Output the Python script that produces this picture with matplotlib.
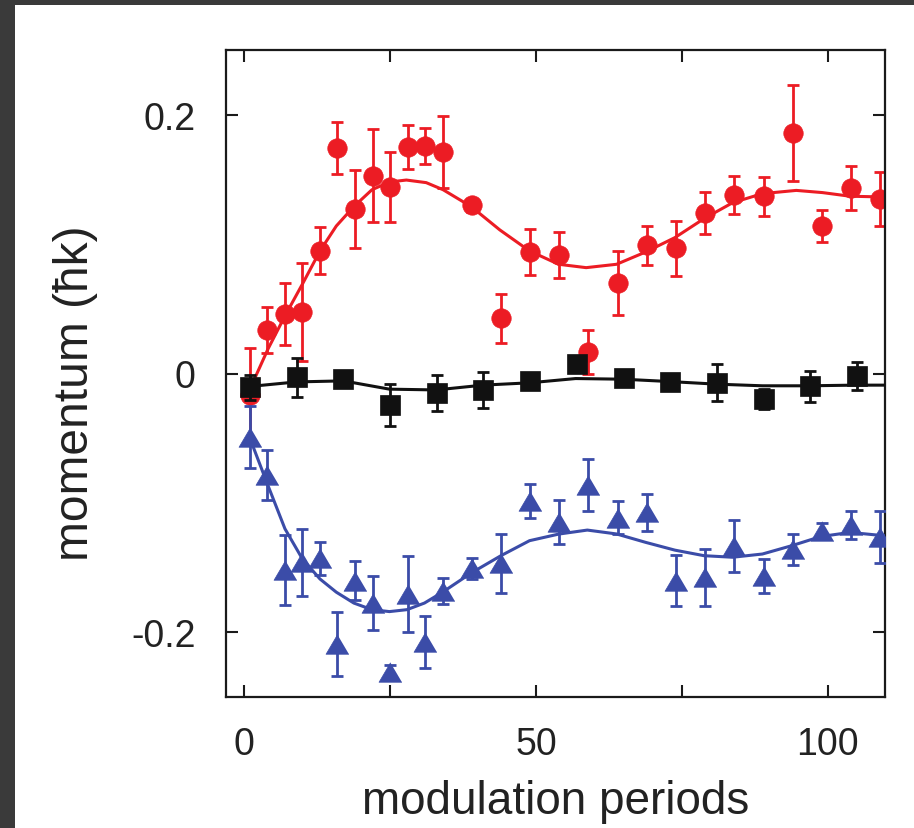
import numpy as np
import matplotlib
matplotlib.use("Agg")
import matplotlib.pyplot as plt
from matplotlib.patches import Rectangle

plt.rcParams['font.family'] = ['Liberation Sans', 'DejaVu Sans']

# measured points (modulation periods, momentum in hbar k)
red_x = [1, 4, 7, 10, 13, 16, 19, 22, 25, 28, 31, 34, 39, 44, 49, 54, 59, 64, 69, 74, 79, 84, 89, 94, 99, 104, 109]
red_y = [-0.017, 0.0335, 0.046, 0.0476, 0.095, 0.174, 0.127, 0.153, 0.144, 0.175, 0.176, 0.171, 0.130, 0.0427,
         0.094, 0.0916, 0.0167, 0.070, 0.099, 0.0967, 0.124, 0.138, 0.137, 0.186, 0.114, 0.1436, 0.135]
red_err = [0.037, 0.018, 0.024, 0.038, 0.018, 0.020, 0.030, 0.036, 0.027, 0.017, 0.014, 0.028, 0.005, 0.019,
           0.018, 0.018, 0.017, 0.025, 0.015, 0.021, 0.016, 0.015, 0.015, 0.037, 0.012, 0.017, 0.021]

blue_x = red_x
blue_y = [-0.0494, -0.0785, -0.1516, -0.146, -0.1429, -0.209, -0.160, -0.1774, -0.231, -0.1704, -0.2073, -0.1679,
          -0.1506, -0.1467, -0.0984, -0.1151, -0.0863, -0.1113, -0.1074, -0.160, -0.1575, -0.1331, -0.1563,
          -0.1357, -0.1215, -0.1171, -0.1266]
blue_err = [0.024, 0.019, 0.027, 0.026, 0.013, 0.025, 0.015, 0.021, 0.006, 0.029, 0.020, 0.010, 0.008, 0.023,
            0.013, 0.017, 0.020, 0.013, 0.014, 0.020, 0.022, 0.020, 0.013, 0.012, 0.006, 0.011, 0.020]

black_x = [1, 9, 17, 25, 33, 41, 49, 57, 65, 73, 81, 89, 97, 105]
black_y = [-0.0108, -0.003, -0.0039, -0.0245, -0.0152, -0.0127, -0.0057, 0.0077, -0.0031, -0.0065, -0.007,
           -0.0198, -0.010, -0.0018]
black_err = [0.010, 0.015, 0.004, 0.016, 0.014, 0.014, 0.004, 0.004, 0.004, 0.004, 0.014, 0.008, 0.012, 0.011]

# fit curves
red_fit_x = [1.0, 4.1, 7.0, 10.1, 13.0, 15.8, 18.8, 21.9, 24.9, 27.8, 31.2, 34.1, 38.9, 43.8, 48.9, 53.9, 58.6,
             63.8, 68.8, 73.8, 78.8, 83.7, 88.8, 94.6, 99.1, 103.8, 109.7]
red_fit_y = [-0.012, 0.019, 0.0445, 0.070, 0.0947, 0.114, 0.129, 0.142, 0.148, 0.1495, 0.1475, 0.142, 0.129,
             0.111, 0.0947, 0.0844, 0.0818, 0.0844, 0.0939, 0.105, 0.1197, 0.132, 0.139, 0.1415, 0.1398, 0.137,
             0.1364]

blue_fit_x = [1.0, 1.5, 4.0, 7.0, 10.0, 13.0, 15.8, 18.8, 21.9, 24.9, 27.9, 30.9, 34.0, 38.9, 44.0, 48.9, 53.9,
              58.8, 63.8, 68.8, 73.8, 78.8, 83.7, 88.8, 93.8, 98.8, 103.8, 109.7]
blue_fit_y = [-0.050, -0.056, -0.0855, -0.120, -0.1434, -0.1588, -0.169, -0.1774, -0.1825, -0.184, -0.1825,
              -0.1774, -0.169, -0.1542, -0.1408, -0.1292, -0.1241, -0.121, -0.124, -0.1305, -0.1365, -0.1408,
              -0.142, -0.1395, -0.1331, -0.126, -0.1228, -0.1254]

black_fit_x = [1.0, 9.0, 17.0, 24.9, 32.9, 40.9, 48.9, 56.8, 64.9, 72.8, 80.8, 88.8, 96.7, 104.7, 109.7]
black_fit_y = [-0.010, -0.0065, -0.0057, -0.0121, -0.0127, -0.009, -0.0072, -0.0039, -0.0044, -0.0062, -0.0082,
               -0.0095, -0.0095, -0.009, -0.009]

x_ticks = [0, 25, 50, 75, 100]
x_ticklabels = ['0', '', '50', '', '100']
y_ticks = [-0.2, 0, 0.2]
y_ticklabels = ['-0.2', '0', '0.2']

RED = '#ec1c24'
BLUE = '#3b4ca8'
BLACK = '#111111'

fig = plt.figure(figsize=(9.14, 8.29), dpi=100)
ax = fig.add_axes([226 / 914, 1 - 698 / 829, 659 / 914, 647 / 829])

# dark frame at the top and left edge of the screenshot
fig.add_artist(Rectangle((0, 1 - 6 / 829), 1, 6 / 829, transform=fig.transFigure, color='#3a3a3a', lw=0))
fig.add_artist(Rectangle((0, 0), 15 / 914, 1, transform=fig.transFigure, color='#3a3a3a', lw=0))

tri = [(0, 0.85), (-1, -0.85), (1, -0.85)]
eb = dict(fmt='none', elinewidth=2.0, capsize=4.5, capthick=2.0)

def series(x, y, err, fx, fy, color, marker, ms, z):
    ax.plot(fx, fy, color=color, lw=2.2, zorder=z)
    ax.errorbar(x, y, yerr=err, ecolor=color, zorder=z, **eb)
    ax.plot(x, y, ls='none', marker=marker, ms=ms, color=color, mec=color, mew=0.5, zorder=z)

series(red_x, red_y, red_err, red_fit_x, red_fit_y, RED, 'o', 14.0, 2)
series(blue_x, blue_y, blue_err, blue_fit_x, blue_fit_y, BLUE, tri, 16.5, 3)
series(black_x, black_y, black_err, black_fit_x, black_fit_y, BLACK, 's', 14.5, 4)

ax.set_xlim(-3.1, 109.8)
ax.set_ylim(-0.25, 0.25)
ax.set_xticks(x_ticks)
ax.set_xticklabels(x_ticklabels)
ax.set_yticks(y_ticks)
ax.set_yticklabels(y_ticklabels)

for s in ax.spines.values():
    s.set_linewidth(1.6)
    s.set_color('#1a1a1a')
ax.tick_params(direction='in', length=8.6, width=1.5, top=True, right=True,
               labelsize=27, labelcolor='#222222', color='#1a1a1a')
ax.tick_params(axis='y', pad=22)
ax.tick_params(axis='x', pad=21)

ax.set_xlabel('modulation periods', fontsize=33, color='#222222', labelpad=12)
ax.set_ylabel('momentum (ħk)', fontsize=34.5, color='#222222', labelpad=24, y=0.471)

fig.savefig('out.png', dpi=100)
